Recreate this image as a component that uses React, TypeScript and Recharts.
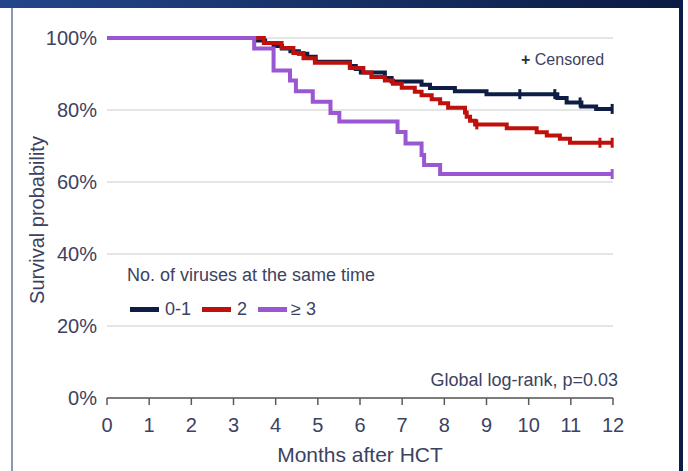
import { ComposedChart, Line, XAxis, YAxis, CartesianGrid, Legend, Label } from 'recharts'

const MONTH_TICKS = [0, 1, 2, 3, 4, 5, 6, 7, 8, 9, 10, 11, 12]
const PCT_TICKS = [0, 20, 40, 60, 80, 100]

// 0-1 viruses
const lowTimes = [0, 3.55, 3.75, 3.95, 4.15, 4.35, 4.55, 4.75, 4.95, 5.76, 5.9, 6.02, 6.59, 6.75, 7.46, 7.66, 8.25, 9.0, 10.68, 10.9, 11.25, 11.6]
const lowSurv = [100, 99.3, 98.6, 97.8, 97.1, 96.3, 95.6, 94.8, 93.4, 92.2, 91.4, 90.4, 88.9, 87.9, 87.0, 86.1, 85.2, 84.4, 83.3, 82.1, 81.0, 80.3]
const lowCensored = [9.79, 10.62, 11.22, 11.98]

// 2 viruses
const twoTimes = [0, 3.72, 4.14, 4.42, 4.66, 4.93, 5.76, 6.08, 6.27, 6.59, 6.78, 6.99, 7.3, 7.46, 7.7, 7.9, 8.09, 8.49, 8.53, 8.61, 8.73, 9.48, 10.19, 10.43, 10.74, 10.98]
const twoSurv = [100, 98.6, 97.2, 95.8, 94.4, 93.1, 91.7, 90.4, 89.2, 88.2, 87.3, 86.2, 85.1, 84.1, 83.0, 81.9, 80.6, 79.3, 78.1, 77.0, 76.0, 74.9, 73.8, 72.9, 72.0, 70.9]
const twoCensored = [8.77, 11.69, 11.98]

// >= 3 viruses
const highTimes = [0, 3.49, 3.95, 4.34, 4.48, 4.88, 5.3, 5.51, 6.89, 7.08, 7.46, 7.52, 7.9]
const highSurv = [100, 97.1, 91.0, 88.2, 85.2, 82.3, 79.2, 76.8, 73.9, 70.7, 67.5, 64.7, 62.2]
const highCensored = [11.98]

const TEXT = '#3c4262'
const NAVY = '#0e1d44'
const RED = '#c0100c'
const PURPLE = '#9a57d2'

function buildCurve(times: number[], surv: number[], censored: number[]) {
  const pts = times.map((t, i) => ({ t, s: surv[i], c: false }))
  censored.forEach(ct => {
    let s = surv[0]
    times.forEach((t, i) => { if (t <= ct) s = surv[i] })
    pts.push({ t: ct, s, c: true })
  })
  return pts.sort((a, b) => a.t - b.t)
}

const series = [
  { name: '0-1', color: NAVY, data: buildCurve(lowTimes, lowSurv, lowCensored) },
  { name: '2', color: RED, data: buildCurve(twoTimes, twoSurv, twoCensored) },
  { name: '≥ 3', color: PURPLE, data: buildCurve(highTimes, highSurv, highCensored) },
]

const censorDot = (color: string) => (props: any) => {
  const { cx, cy, payload, index } = props
  if (!payload || !payload.c) return <g key={'d' + index} />
  return <path key={'d' + index} d={`M${cx},${cy - 5}V${cy + 5}`} stroke={color} strokeWidth={3} />
}

function LegendBox() {
  return (
    <div style={{ fontSize: 18, color: TEXT, lineHeight: '24px', whiteSpace: 'nowrap' }}>
      <div>No. of viruses at the same time</div>
      <div style={{ display: 'flex', alignItems: 'center', marginTop: 10 }}>
        {series.map((s, i) => (
          <div key={s.name} style={{ display: 'flex', alignItems: 'center', marginLeft: i === 0 ? 3 : 11 }}>
            <span style={{ display: 'inline-block', width: 29, height: 5, background: s.color, marginRight: i === 2 ? 4 : 6 }} />
            <span>{s.name}</span>
          </div>
        ))}
      </div>
    </div>
  )
}

export default function App() {
  return (
    <div style={{ position: 'fixed', left: 0, top: 0, width: 688, height: 471, background: '#fff', fontFamily: '"Liberation Sans", Arial, sans-serif', overflow: 'hidden' }}>
      <div style={{ position: 'absolute', left: 0, top: 0, width: 683, height: 8, background: 'linear-gradient(90deg, #23468a, #0b1b42)' }} />
      <div style={{ position: 'absolute', left: 11, top: 8, width: 2, height: 463, background: '#8c97b4' }} />
      <div style={{ position: 'absolute', left: 679, top: 0, width: 4, height: 471, background: '#0b1c46' }} />

      <ComposedChart width={688} height={471} margin={{ top: 38, right: 75, bottom: 0, left: 47 }}>
        <CartesianGrid horizontal vertical={false} stroke="#dcdcdc" strokeWidth={1.5} />
        <XAxis
          dataKey="t"
          type="number"
          domain={[0, 12]}
          ticks={MONTH_TICKS}
          height={73}
          allowDuplicatedCategory={false}
          axisLine={{ stroke: '#5a5a5a', strokeWidth: 1.5 }}
          tickLine={{ stroke: '#5a5a5a', strokeWidth: 1.5 }}
          tickSize={7}
          tickMargin={13}
          tick={{ fill: TEXT, fontSize: 20 }}
        >
          <Label value="Months after HCT" position="insideBottom" offset={9} style={{ fill: TEXT, fontSize: 21 }} />
        </XAxis>
        <YAxis
          type="number"
          domain={[0, 100]}
          ticks={PCT_TICKS}
          width={60}
          axisLine={false}
          tickLine={false}
          tickMargin={4}
          tickFormatter={(v: number) => `${v}%`}
          tick={{ fill: TEXT, fontSize: 20 }}
        >
          <Label
            content={(props: any) => {
              const vb = props.viewBox || { x: 47, y: 38, width: 60, height: 360 }
              const x = 37
              const y = vb.y + vb.height / 2 + 2
              return (
                <text x={x} y={y} transform={`rotate(-90 ${x} ${y})`} textAnchor="middle" dominantBaseline="central" fill={TEXT} fontSize={20}>
                  Survival probability
                </text>
              )
            }}
          />
        </YAxis>
        <Legend verticalAlign="middle" layout="horizontal" wrapperStyle={{ top: 263, left: 127, width: 'auto', height: 'auto' }} content={() => <LegendBox />} />
        {series.map(s => (
          <Line
            key={s.name}
            name={s.name}
            data={s.data}
            dataKey="s"
            type="stepAfter"
            stroke={s.color}
            strokeWidth={4}
            dot={censorDot(s.color)}
            activeDot={false}
            isAnimationActive={false}
          />
        ))}
      </ComposedChart>

      <div style={{ position: 'absolute', left: 521, top: 50, fontSize: 16, lineHeight: '20px', color: TEXT, whiteSpace: 'nowrap' }}>
        <b style={{ color: '#2a2f45' }}>+</b> Censored
      </div>
      <div style={{ position: 'absolute', right: 70, top: 370, fontSize: 18, lineHeight: '20px', color: TEXT, whiteSpace: 'nowrap' }}>
        Global log-rank, p=0.03
      </div>
    </div>
  )
}
